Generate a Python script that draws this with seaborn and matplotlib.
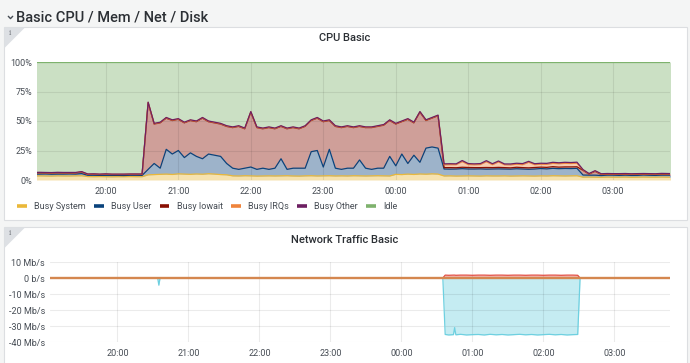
import numpy as np
import pandas as pd
import matplotlib
matplotlib.use("Agg")
import matplotlib.pyplot as plt
import matplotlib.dates as mdates
from matplotlib.lines import Line2D
from matplotlib.patches import Rectangle, Polygon
from matplotlib.ticker import FuncFormatter, FixedLocator
import seaborn as sns

# CPU Basic - one sample every 5 min starting 19:00 (percent)
cpu_start = "2023-03-01 19:00"
busy_system = [
    3.4, 3.5, 3.4, 3.3, 3.5, 3.4, 3.4, 3.5, 3.6, 2.9, 2.8, 2.9, 2.8, 2.7, 2.8, 2.8, 2.9, 2.8, 2.8,
    4.4, 4.6, 4.8, 5.0, 4.7, 5.2, 5.0, 4.8, 5.1, 4.9, 5.3, 5.0, 4.6, 4.4,
    3.5, 3.4, 3.6, 3.5, 3.3, 3.4, 3.5, 3.4, 3.5, 3.6, 3.4, 3.3, 3.5, 3.6, 3.4, 3.5, 3.6, 3.4,
    3.5, 3.4, 3.6, 3.5, 3.4, 3.5, 3.6, 3.5, 3.4,
    4.8, 4.6, 5.0, 4.7, 5.1, 4.9, 5.2, 5.0,
    3.4, 3.5, 3.3, 3.4, 3.5, 3.4, 3.3, 3.5, 3.4, 3.4, 3.5, 3.3, 3.4, 3.5, 3.4, 3.3, 3.5, 3.4,
    3.6, 3.5, 3.4, 3.5, 3.6,
    2.4, 2.5, 2.4, 2.3, 2.5, 2.4, 2.4, 2.5, 2.3, 2.4, 2.5, 2.4, 2.4, 2.5, 2.4, 2.4,
]
busy_user = [
    1.6, 1.5, 1.7, 1.6, 1.5, 1.6, 1.7, 1.5, 1.8, 1.1, 1.2, 1.0, 1.1, 1.2, 1.1, 1.0, 1.1, 1.2, 1.1,
    4.6, 9.4, 5.2, 21.0, 17.3, 19.8, 14.0, 18.2, 14.9, 13.1, 16.7, 16.0, 15.4, 9.6,
    6.5, 5.6, 6.4, 7.5, 5.7, 6.6, 5.5, 6.6, 14.5, 5.4, 6.6, 6.7, 6.5, 20.4, 21.6, 7.5, 22.4, 6.6,
    5.5, 6.6, 6.4, 13.5, 6.6, 5.5, 6.4, 6.5, 16.6,
    7.2, 17.4, 9.0, 16.3, 9.9, 22.1, 22.8, 22.0,
    5.9, 5.7, 6.0, 6.2, 5.8, 5.9, 6.1, 5.7, 5.9, 6.0, 5.8, 5.9, 6.1, 5.8, 5.7, 6.0, 6.2, 6.0,
    6.3, 6.1, 6.4, 6.2, 6.3,
    1.8, 1.6, 1.7, 1.5, 1.6, 1.7, 1.5, 1.6, 1.6, 1.5, 1.7, 1.6, 1.5, 1.6, 1.7, 1.6,
]
busy_iowait = [
    1.0, 1.1, 0.9, 1.0, 1.1, 1.0, 0.9, 1.0, 1.3, 0.7, 0.8, 0.7, 0.9, 0.7, 0.7, 0.8, 0.7, 0.7, 0.8,
    56.4, 33.4, 38.4, 26.4, 28.4, 26.4, 29.4, 27.4, 29.4, 34.4, 27.4, 27.4, 27.4, 31.4,
    34.4, 36.4, 33.4, 46.4, 35.4, 33.4, 35.4, 33.4, 27.4, 34.4, 34.4, 33.4, 35.4, 26.4, 27.4,
    38.4, 24.4, 35.4, 35.4, 35.4, 34.4, 28.4, 34.4, 35.4, 35.4, 36.4, 30.4,
    35.4, 27.4, 37.4, 27.4, 42.4, 23.4, 24.4, 27.4,
    1.2, 1.3, 1.1, 1.2, 1.3, 1.2, 1.1, 1.4, 1.2, 1.3, 1.2, 1.1, 1.3, 1.2, 1.2, 1.3, 1.2, 1.3,
    1.4, 1.3, 1.3, 1.4, 1.3,
    4.0, 0.8, 3.2, 0.9, 0.8, 0.7, 0.9, 0.8, 0.8, 0.9, 0.7, 0.8, 0.8, 0.9, 0.8, 0.8,
]
busy_irqs = [
    0.2, 0.2, 0.2, 0.2, 0.2, 0.2, 0.2, 0.2, 0.2, 0.2, 0.2, 0.2, 0.2, 0.2, 0.2, 0.2, 0.2, 0.2, 0.2,
    0.3, 0.3, 0.3, 0.3, 0.3, 0.3, 0.3, 0.3, 0.3, 0.3, 0.3, 0.3, 0.3, 0.3,
    0.3, 0.3, 0.3, 0.3, 0.3, 0.3, 0.3, 0.3, 0.3, 0.3, 0.3, 0.3, 0.3, 0.3, 0.3, 0.3, 0.3, 0.3,
    0.3, 0.3, 0.3, 0.3, 0.3, 0.3, 0.3, 0.3, 0.3,
    0.3, 0.3, 0.3, 0.3, 0.3, 0.3, 0.3, 0.3,
    2.4, 2.5, 2.6, 4.8, 2.5, 2.4, 2.6, 4.9, 2.5, 4.6, 2.4, 2.5, 2.6, 2.5, 4.7, 2.4, 2.5, 2.6,
    2.8, 2.9, 3.0, 2.9, 3.0,
    0.3, 0.3, 0.3, 0.3, 0.3, 0.3, 0.3, 0.3, 0.3, 0.3, 0.3, 0.3, 0.3, 0.3, 0.3, 0.3,
]
busy_other = [
    0.2, 0.2, 0.2, 0.2, 0.2, 0.2, 0.2, 0.2, 0.2, 0.2, 0.2, 0.2, 0.2, 0.2, 0.2, 0.2, 0.2, 0.2, 0.2,
    0.3, 0.3, 0.3, 0.3, 0.3, 0.3, 0.3, 0.3, 0.3, 0.3, 0.3, 0.3, 0.3, 0.3,
    0.3, 0.3, 0.3, 0.3, 0.3, 0.3, 0.3, 0.3, 0.3, 0.3, 0.3, 0.3, 0.3, 0.3, 0.3, 0.3, 0.3, 0.3,
    0.3, 0.3, 0.3, 0.3, 0.3, 0.3, 0.3, 0.3, 0.3,
    0.3, 0.3, 0.3, 0.3, 0.3, 0.3, 0.3, 0.3,
    0.8, 0.8, 0.7, 0.9, 0.8, 0.8, 0.8, 0.9, 0.8, 0.8, 0.7, 0.8, 0.8, 0.9, 0.8, 0.8, 0.8, 0.8,
    0.9, 0.8, 0.9, 0.8, 0.9,
    0.3, 0.3, 0.3, 0.3, 0.3, 0.3, 0.3, 0.3, 0.3, 0.3, 0.3, 0.3, 0.3, 0.3, 0.3, 0.3,
]
cpu_names = ["Busy System", "Busy User", "Busy Iowait", "Busy IRQs", "Busy Other", "Idle"]
cpu_colors = ["#EAB839", "#0A437C", "#890F02", "#EF843C", "#6D1F62", "#7EB26D"]

# Network Traffic Basic (Mb/s, transmit drawn negative)
net_times = ["19:00", "20:34", "20:35", "20:36", "00:35", "00:37", "00:40", "00:44", "00:45",
             "00:46", "00:50", "00:55", "01:00", "01:05", "01:10", "01:15", "01:20", "01:25",
             "01:30", "01:35", "01:40", "01:45", "01:50", "01:55", "02:00", "02:05", "02:10",
             "02:15", "02:20", "02:25", "02:29", "02:31", "03:50"]
net_trans = [0, 0, -4.5, 0, 0, -35.3, -35.6, -35.4, -31.0,
             -35.5, -35.2, -35.6, -35.4, -35.3, -35.6, -35.2, -35.5, -35.3,
             -35.6, -35.4, -35.2, -35.5, -35.3, -35.6, -35.4, -35.2, -35.5,
             -35.3, -35.6, -35.4, -35.3, 0, 0]
net_recv = [0, 0, 0, 0, 0, 1.8, 1.7, 1.8, 1.8,
            1.7, 1.8, 1.8, 1.7, 1.8, 1.8, 1.7, 1.8, 1.8,
            1.7, 1.8, 1.8, 1.7, 1.8, 1.8, 1.7, 1.8, 1.8,
            1.7, 1.8, 1.8, 1.7, 0, 0]
net_idle_times = ["19:00", "03:50"]
net_idle = [0, 0]

W, H = 690, 363
BG = "#f4f5f5"
TXT = "#464c54"


def fx(px):
    return px / W


def fy(py):
    return 1 - py / H


def to_ts(hhmm):
    h = int(hhmm.split(":")[0])
    day = "2023-03-01" if h >= 12 else "2023-03-02"
    return pd.Timestamp(f"{day} {hhmm}")


sns.set_theme(style="white")
plt.rcParams["font.family"] = ["Roboto", "DejaVu Sans"]

fig = plt.figure(figsize=(W / 100, H / 100), dpi=100)
fig.patch.set_facecolor(BG)

# panels
for top, bottom in [(27, 220), (227, 372)]:
    fig.add_artist(Rectangle((fx(4), fy(bottom)), fx(687) - fx(4), (bottom - top) / H,
                             transform=fig.transFigure, facecolor="white",
                             edgecolor="#dcdee1", lw=0.8, zorder=-2))
    fig.add_artist(Polygon([(fx(4.5), fy(top + 0.5)), (fx(25), fy(top + 0.5)), (fx(4.5), fy(top + 21))],
                           closed=True, transform=fig.transFigure, facecolor="#dde0e4",
                           edgecolor="none", zorder=-1))
    fig.text(fx(10), fy(top + 6), "i", fontsize=5.5, color="#6c7076", family="DejaVu Serif",
             ha="center", va="center")

# row header
fig.add_artist(Line2D([fx(8.3), fx(10.5), fx(12.7)], [fy(16.3), fy(18.6), fy(16.3)],
                      transform=fig.transFigure, color=TXT, lw=1.0))
fig.text(fx(16), fy(18), "Basic CPU / Mem / Net / Disk", fontsize=10.5, color="#2c3035",
         va="center", ha="left", fontweight="medium")

fig.text(fx(345), fy(38), "CPU Basic", fontsize=8, color="#2c3035", ha="center", va="center",
         fontweight="medium")
fig.text(fx(345), fy(240), "Network Traffic Basic", fontsize=8, color="#2c3035", ha="center",
         va="center", fontweight="medium")

x0, x1 = to_ts("19:03"), to_ts("03:47")


def style_axes(ax):
    for s in ax.spines.values():
        s.set_visible(False)
    ax.set_axisbelow("line")
    ax.grid(True, color="black", alpha=0.08, lw=0.8)
    ax.tick_params(length=0, labelsize=6.5, labelcolor=TXT, pad=3.5)
    ax.tick_params(axis="x", pad=5)
    ax.xaxis.set_major_locator(mdates.HourLocator())
    ax.xaxis.set_major_formatter(mdates.DateFormatter("%H:%M"))
    ax.set_xlim(x0, x1)
    ax.set_xlabel("")
    ax.set_ylabel("")
    ax.set_facecolor("white")


# ---- CPU Basic ----
ax1 = fig.add_axes([fx(37), fy(180), fx(670) - fx(37), (180 - 62) / H])
cpu_t = pd.date_range(cpu_start, periods=len(busy_system), freq="5min")
layers = np.array([busy_system, busy_user, busy_iowait, busy_irqs, busy_other])
idle = 100 - layers.sum(axis=0)
layers = np.vstack([layers, idle])
tops = np.cumsum(layers, axis=0)
bottoms = np.vstack([np.zeros(len(cpu_t)), tops[:-1]])
for lo, hi, c in zip(bottoms, tops, cpu_colors):
    ax1.fill_between(cpu_t, lo, hi, color=c, alpha=0.4, lw=0)

cpu_long = pd.concat([pd.DataFrame({"time": cpu_t, "value": tops[k], "series": cpu_names[k]})
                      for k in range(len(cpu_names))])
sns.lineplot(data=cpu_long, x="time", y="value", hue="series", hue_order=cpu_names,
             palette=cpu_colors, estimator=None, lw=0.9, legend=False, ax=ax1)
style_axes(ax1)
ax1.set_ylim(0, 100)
ax1.yaxis.set_major_locator(FixedLocator([0, 25, 50, 75, 100]))
ax1.yaxis.set_major_formatter(FuncFormatter(lambda v, _: f"{v:.0f}%"))

handles = [Line2D([0], [0], color=c, lw=2.6, solid_capstyle="butt") for c in cpu_colors]
fig.legend(handles, cpu_names, loc="upper left", bbox_to_anchor=(fx(17), fy(202)), ncol=6,
           frameon=False, fontsize=6.5, handlelength=1.1, handletextpad=0.8,
           columnspacing=0.9, borderaxespad=0, borderpad=0, labelcolor=TXT)

# ---- Network Traffic Basic ----
ax2 = fig.add_axes([fx(50), fy(342), fx(670) - fx(50), (342 - 262) / H])
net_t = [to_ts(s) for s in net_times]
ax2.fill_between(net_t, 0, net_trans, color="#6ED0E0", alpha=0.4, lw=0)
ax2.fill_between(net_t, 0, net_recv, color="#E24D42", alpha=0.4, lw=0)
net_long = pd.concat([
    pd.DataFrame({"time": net_t, "value": net_trans, "series": "trans"}),
    pd.DataFrame({"time": net_t, "value": net_recv, "series": "recv"}),
])
sns.lineplot(data=net_long, x="time", y="value", hue="series", hue_order=["trans", "recv"],
             palette=["#6ED0E0", "#E24D42"], estimator=None, lw=0.9, legend=False, ax=ax2)
sns.lineplot(x=[to_ts(s) for s in net_idle_times], y=net_idle, color="#D4874F", lw=1.7, ax=ax2)
style_axes(ax2)
ax2.set_ylim(-40, 10)
ax2.yaxis.set_major_locator(FixedLocator([-40, -30, -20, -10, 0, 10]))
ax2.yaxis.set_major_formatter(FuncFormatter(lambda v, _: "0 b/s" if v == 0 else f"{v:.0f} Mb/s"))

fig.savefig("out.png", dpi=100, facecolor=BG)
